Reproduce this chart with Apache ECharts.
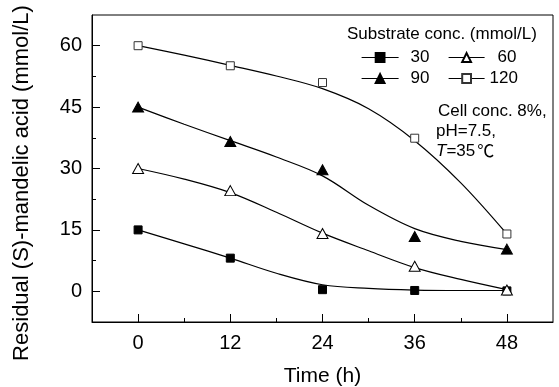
<!DOCTYPE html>
<html><head><meta charset="utf-8">
<script src="https://cdn.jsdelivr.net/npm/echarts@6/dist/echarts.min.js"></script>
<style>html,body{margin:0;padding:0;background:#fff}#c{width:559px;height:387px}</style>
</head><body><div id="c"></div>
<script>
// measured points
const times = [0, 12, 24, 36, 48];
const s30 = [15, 8.1, 0.4, 0.2, 0.1];
const s60 = [30, 24.6, 14.1, 6.1, 0.3];
const s90 = [45, 36.6, 29.7, 13.4, 10.3];
const s120 = [60, 55.1, 51.0, 37.4, 14.0];
// fitted curves
const fitTimes = [0, 6, 12, 18, 24, 30, 36, 42, 48];
const fit30 = [15, 11.6, 8.1, 4.4, 1.6, 0.7, 0.3, 0.2, 0.2];
const fit60 = [30, 27.4, 24.1, 19.3, 14.2, 9.9, 5.8, 2.9, 0.4];
const fit90 = [45, 40.8, 36.8, 32.8, 28.2, 21.0, 15.3, 12.2, 10.2];
const fit120 = [60, 57.7, 55.2, 52.6, 49.5, 44.6, 36.8, 26.5, 14.0];
// ticks
const xTicks = [0, 12, 24, 36, 48];
const xMinorTicks = [6, 18, 30, 42];
const yTicks = [0, 15, 30, 45, 60];
const yMinorTicks = [7.5, 22.5, 37.5, 52.5];
const legendTitle = 'Substrate conc. (mmol/L)';
const notes = ['Cell conc. 8%,', 'pH=7.5,'];

const pairs = (xs, ys) => xs.map((x, i) => [x, ys[i]]);
const FONT = 'Liberation Sans, Arial, sans-serif';

const pointStyle = {
  '30': {symbol: 'rect', symbolSize: 8, itemStyle: {color: '#000', borderColor: '#000', borderWidth: 1}},
  '60': {symbol: 'triangle', symbolSize: [11, 10], itemStyle: {color: '#fff', borderColor: '#000', borderWidth: 1}},
  '90': {symbol: 'triangle', symbolSize: [11, 10], itemStyle: {color: '#000', borderColor: '#000', borderWidth: 1}},
  '120': {symbol: 'rect', symbolSize: 8, itemStyle: {color: '#fff', borderColor: '#333', borderWidth: 1}}
};
const pointData = {'30': s30, '60': s60, '90': s90, '120': s120};
const fitData = {'30': fit30, '60': fit60, '90': fit90, '120': fit120};

const series = [];
Object.keys(fitData).forEach(k => {
  series.push({
    name: 'fit' + k, type: 'line', smooth: 0.35, showSymbol: false, silent: true, z: 2,
    data: pairs(fitTimes, fitData[k]),
    lineStyle: {color: '#000', width: 1.2}
  });
});
['30', '60', '90', '120'].forEach(k => {
  series.push(Object.assign({
    name: k, type: 'line', z: 3, showSymbol: true,
    data: pairs(times, pointData[k]),
    lineStyle: {width: 0, opacity: 0}
  }, pointStyle[k]));
});

const axisCommon = {
  type: 'value', splitLine: {show: false},
  axisLine: {show: true, onZero: false, lineStyle: {color: '#000', width: 1}}
};

const legendCommon = {
  orient: 'vertical', padding: 0, itemWidth: 37, itemHeight: 11, itemGap: 4,
  selectedMode: false,
  textStyle: {fontSize: 17, color: '#000', fontFamily: FONT, lineHeight: 17, padding: [0, 0, 0, 7]},
  lineStyle: {color: '#000', width: 1.2, opacity: 1, type: 'solid'}
};

const option = {
  animation: false,
  textStyle: {fontFamily: FONT},
  grid: {left: 92, right: 6, top: 15, bottom: 65, show: true, borderColor: '#000', borderWidth: 1,
         backgroundColor: 'transparent', containLabel: false, outerBoundsMode: 'none'},
  xAxis: [
    Object.assign({}, axisCommon, {
      min: -6, max: 54, position: 'bottom',
      axisTick: {show: true, inside: true, length: 8, customValues: xTicks, lineStyle: {color: '#000'}},
      axisLabel: {customValues: xTicks, fontSize: 20, color: '#000', margin: 11, fontFamily: FONT},
      name: 'Time (h)', nameLocation: 'middle', nameGap: 44,
      nameTextStyle: {fontSize: 21, color: '#000', fontFamily: FONT}
    }),
    Object.assign({}, axisCommon, {
      min: -6, max: 54, position: 'bottom', axisLine: {show: false, onZero: false},
      axisTick: {show: true, inside: true, length: 4, customValues: xMinorTicks, lineStyle: {color: '#000'}},
      axisLabel: {show: false}
    })
  ],
  yAxis: [
    Object.assign({}, axisCommon, {
      min: -7.5, max: 67.5, position: 'left',
      axisTick: {show: true, inside: true, length: 8, customValues: yTicks, lineStyle: {color: '#000'}},
      axisLabel: {customValues: yTicks, fontSize: 20, color: '#000', margin: 10, fontFamily: FONT},
      name: 'Residual (S)-mandelic acid (mmol/L)', nameLocation: 'middle', nameGap: 59,
      nameTextStyle: {fontSize: 22, color: '#000', fontFamily: FONT, padding: [0, 29, 0, 0]}
    }),
    Object.assign({}, axisCommon, {
      min: -7.5, max: 67.5, position: 'left', axisLine: {show: false, onZero: false},
      axisTick: {show: true, inside: true, length: 4, customValues: yMinorTicks, lineStyle: {color: '#000'}},
      axisLabel: {show: false}
    })
  ],
  legend: [
    Object.assign({}, legendCommon, {left: 361, top: 49, data: ['30', '90']}),
    Object.assign({}, legendCommon, {left: 448, top: 49, itemWidth: 36,
      data: [{name: '60', textStyle: {padding: [0, 0, 0, 8]}}, {name: '120', textStyle: {padding: [0, 0, 0, 0]}}]})
  ],
  graphic: [
    {type: 'text', left: 347, top: 34.5 - 9, style: {text: legendTitle, fontSize: 17, fill: '#000', fontFamily: FONT}},
    {type: 'text', left: 438, top: 111.5 - 9, style: {text: notes[0], fontSize: 17, fill: '#000', fontFamily: FONT}},
    {type: 'text', left: 436, top: 131.5 - 9, style: {text: notes[1], fontSize: 17, fill: '#000', fontFamily: FONT}},
    {type: 'text', left: 436, top: 151.5 - 9, style: {
      text: '{i|T}=35{c|℃}', fontSize: 17, fill: '#000', fontFamily: FONT,
      rich: {
        i: {fontStyle: 'italic', fontSize: 17, fontFamily: FONT, fill: '#000'},
        c: {fontSize: 17, fontFamily: 'Noto Sans CJK SC', fill: '#000', padding: [0, 0, 0, 2]}
      }
    }}
  ],
  series: series
};

const chart = echarts.init(document.getElementById('c'), null, {renderer: 'canvas'});
chart.setOption(option);
</script>
</body></html>
